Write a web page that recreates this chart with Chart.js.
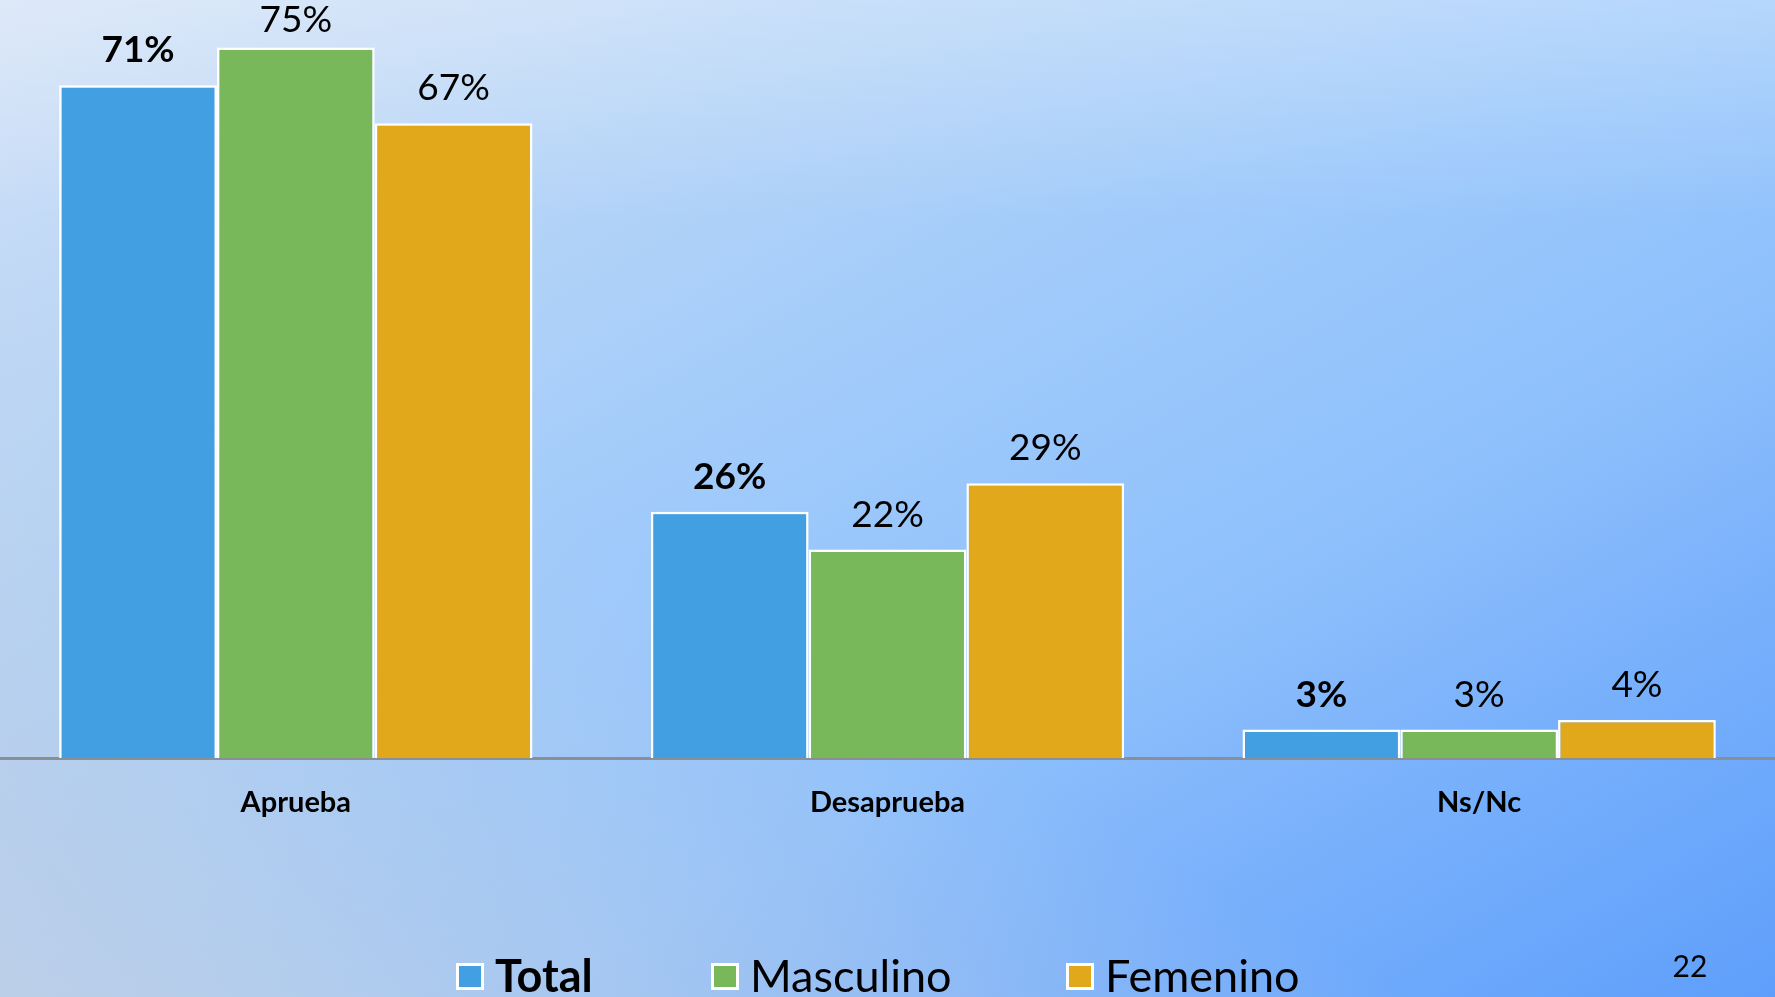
<!DOCTYPE html>
<html>
<head>
<meta charset="utf-8">
<script src="https://cdn.jsdelivr.net/npm/chart.js@4/dist/chart.umd.min.js"></script>
<style>
  html, body { margin: 0; padding: 0; }
  #wrap {
    position: relative;
    width: 1775px;
    height: 997px;
    overflow: hidden;
    background: linear-gradient(to bottom right,
      #d2e1f6 0%, #b5d4f7 24%, #9dc9fb 47%, #8ec0fc 65%, #84b8fb 72%, #78b0fb 80%, #5f9ffb 100%);
  }
  .layer { position: absolute; left: 0; top: 0; width: 100%; height: 100%; }
  #shadeTop {
    background: linear-gradient(to bottom, rgba(255, 255, 255, 0.27) 0%, rgba(255, 255, 255, 0) 22%);
  }
  #shadeLeft {
    background: linear-gradient(to top right, rgba(200, 210, 226, 0.75) 0%, rgba(200, 210, 226, 0) 40%);
  }
  canvas { position: absolute; left: 0; top: 0; }
</style>
</head>
<body>
<div id="wrap">
  <div class="layer" id="shadeTop"></div>
  <div class="layer" id="shadeLeft"></div>
  <canvas id="chart" width="1775" height="997"></canvas>
</div>
<script>
const categories = ['Aprueba', 'Desaprueba', 'Ns/Nc'];
const seriesNames = ['Total', 'Masculino', 'Femenino'];
const totalValues = [71, 26, 3];
const masculinoValues = [75, 22, 3];
const femeninoValues = [67, 29, 4];
const pageNumber = '22';

const FONT = "Lato, 'Open Sans', sans-serif";
const colors = {
    total: '#419fe2',
    masculino: '#78b75a',
    femenino: '#e2a81c',
    axis: '#8a8f96'
};

const valueLabels = {
    id: 'valueLabels',
    afterDatasetsDraw(chart) {
        const ctx = chart.ctx;
        ctx.save();
        ctx.fillStyle = '#000';
        ctx.textAlign = 'center';
        ctx.textBaseline = 'alphabetic';
        chart.data.datasets.forEach((ds, i) => {
            const meta = chart.getDatasetMeta(i);
            ctx.font = (i === 0 ? 'bold ' : '') + '37px ' + FONT;
            meta.data.forEach((bar, j) => {
                const y = Math.max(bar.y - 23, 32);
                ctx.fillText(ds.data[j] + '%', bar.x, y);
            });
        });
        ctx.restore();
    }
};

const bottomLegend = {
    id: 'bottomLegend',
    afterDraw(chart) {
        const ctx = chart.ctx;
        const boxX = [456, 711, 1066];
        ctx.save();
        chart.data.datasets.forEach((ds, i) => {
            ctx.fillStyle = '#ffffff';
            ctx.fillRect(boxX[i], 963, 28, 27);
            ctx.fillStyle = ds.backgroundColor;
            ctx.fillRect(boxX[i] + 3, 966, 22, 21);
            ctx.fillStyle = '#000';
            ctx.font = (i === 0 ? 'bold ' : '') + '45px ' + FONT;
            ctx.textAlign = 'left';
            ctx.textBaseline = 'alphabetic';
            ctx.fillText(ds.label, boxX[i] + 39, 992);
        });
        ctx.font = '30px ' + FONT;
        ctx.textAlign = 'center';
        ctx.fillText(pageNumber, 1690, 977);
        ctx.restore();
    }
};

const ctx = document.getElementById('chart').getContext('2d');
new Chart(ctx, {
    type: 'bar',
    data: {
        labels: categories,
        datasets: [
            { label: seriesNames[0], data: totalValues, backgroundColor: colors.total },
            { label: seriesNames[1], data: masculinoValues, backgroundColor: colors.masculino },
            { label: seriesNames[2], data: femeninoValues, backgroundColor: colors.femenino }
        ].map(d => ({
            ...d,
            borderColor: '#ffffff',
            borderWidth: 2.5,
            borderSkipped: 'bottom',
            categoryPercentage: 0.8,
            barPercentage: 1.0
        }))
    },
    options: {
        responsive: false,
        animation: false,
        layout: { padding: 0 },
        plugins: {
            legend: { display: false },
            tooltip: { enabled: false }
        },
        scales: {
            y: {
                display: false,
                min: 0,
                max: 80
            },
            x: {
                grid: { display: false, drawTicks: false },
                border: { display: true, color: colors.axis, width: 3 },
                ticks: {
                    color: '#000',
                    padding: 27,
                    font: { family: FONT, size: 29, weight: 'bold' }
                },
                afterFit(scale) { scale.height = 239; }
            }
        }
    },
    plugins: [valueLabels, bottomLegend]
});
</script>
</body>
</html>
